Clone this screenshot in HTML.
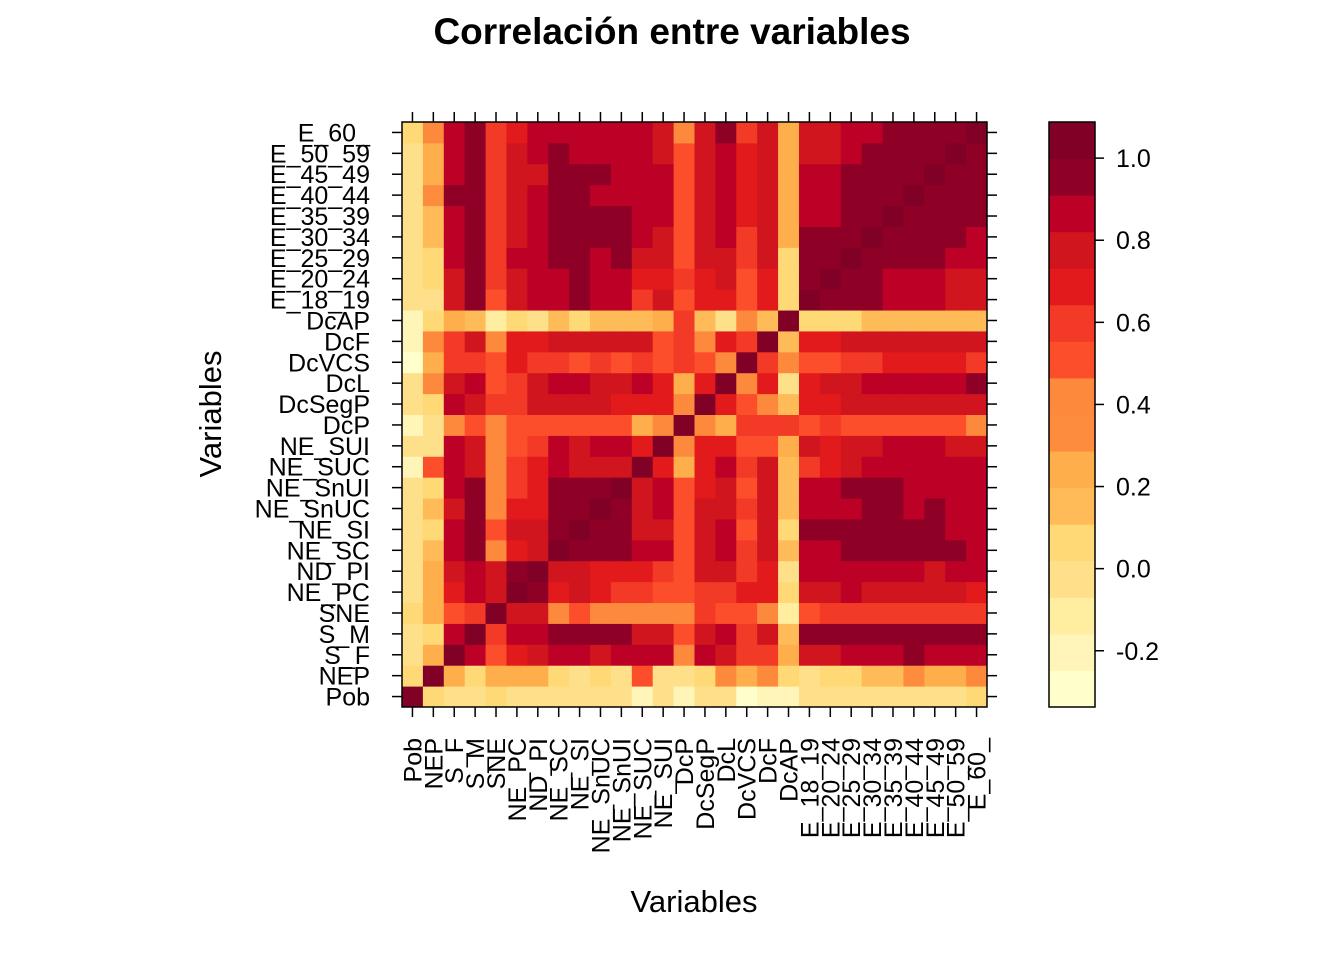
<!DOCTYPE html>
<html><head><meta charset="utf-8"><style>
html,body{margin:0;padding:0;background:#fff;}
svg{display:block;font-family:"Liberation Sans",Arial,sans-serif;}
</style></head><body>
<svg id="chart" width="1344" height="960" viewBox="0 0 1344 960">
<text x="672" y="44" text-anchor="middle" font-size="37" font-weight="bold">Correlación entre variables</text>
<text x="694" y="912" text-anchor="middle" font-size="31">Variables</text>
<text transform="translate(221,414) rotate(-90)" text-anchor="middle" font-size="31">Variables</text>
<g id="cells"></g>
<g id="axes"></g>
<g id="cbar"></g>
</svg>
<script>
const vars = ["Pob","NEP","S_F","S_M","SNE","NE_PC","ND_PI","NE_SC","NE_SI","NE_SnUC","NE_SnUI","NE_SUC","NE_SUI","DcP","DcSegP","DcL","DcVCS","DcF","DcAP","E_18_19","E_20_24","E_25_29","E_30_34","E_35_39","E_40_44","E_45_49","E_50_59","E_60_"];
const corr = [
[1,0.07,-0.02,-0.02,0.07,-0.02,-0.02,-0.02,-0.02,-0.02,-0.02,-0.2,-0.02,-0.2,-0.02,-0.02,-0.29,-0.2,-0.2,-0.02,-0.02,-0.02,-0.02,-0.02,-0.02,-0.02,-0.02,0.07],
[0.07,1,0.25,0.07,0.25,0.25,0.25,0.07,-0.02,0.07,-0.02,0.51,-0.02,-0.02,0.07,0.42,0.25,0.42,0.07,-0.02,0.07,0.07,0.16,0.16,0.34,0.25,0.25,0.42],
[-0.02,0.25,1,0.87,0.51,0.69,0.78,0.87,0.87,0.78,0.87,0.87,0.87,0.42,0.87,0.78,0.6,0.6,0.25,0.78,0.78,0.87,0.87,0.87,0.95,0.87,0.87,0.87],
[-0.02,0.07,0.87,1,0.6,0.87,0.87,0.95,0.95,0.95,0.95,0.78,0.78,0.51,0.78,0.87,0.6,0.78,0.16,0.95,0.95,0.95,0.95,0.95,0.95,0.95,0.95,0.95],
[0.07,0.25,0.51,0.6,1,0.78,0.78,0.42,0.51,0.42,0.42,0.42,0.42,0.42,0.6,0.51,0.51,0.42,-0.11,0.51,0.6,0.6,0.6,0.6,0.6,0.6,0.6,0.6],
[-0.02,0.25,0.69,0.87,0.78,1,0.95,0.69,0.78,0.69,0.6,0.6,0.51,0.51,0.6,0.6,0.69,0.69,0.07,0.78,0.78,0.87,0.78,0.78,0.78,0.78,0.78,0.69],
[-0.02,0.25,0.78,0.87,0.78,0.95,1,0.78,0.78,0.69,0.69,0.69,0.6,0.51,0.78,0.78,0.6,0.69,-0.02,0.87,0.87,0.87,0.87,0.87,0.87,0.78,0.87,0.87],
[-0.02,0.16,0.87,0.95,0.42,0.69,0.78,1,0.95,0.95,0.95,0.87,0.87,0.51,0.78,0.87,0.6,0.78,0.16,0.87,0.87,0.95,0.95,0.95,0.95,0.95,0.95,0.87],
[-0.02,0.07,0.87,0.95,0.51,0.78,0.78,0.95,1,0.95,0.95,0.78,0.78,0.51,0.78,0.87,0.51,0.78,0.07,0.95,0.95,0.95,0.95,0.95,0.95,0.95,0.87,0.87],
[-0.02,0.16,0.78,0.95,0.42,0.69,0.69,0.95,0.95,1,0.95,0.78,0.87,0.51,0.78,0.78,0.6,0.78,0.16,0.87,0.87,0.87,0.95,0.95,0.87,0.95,0.87,0.87],
[-0.02,0.07,0.87,0.95,0.42,0.6,0.69,0.95,0.95,0.95,1,0.78,0.87,0.51,0.69,0.78,0.51,0.78,0.16,0.87,0.87,0.95,0.95,0.95,0.87,0.87,0.87,0.87],
[-0.2,0.51,0.87,0.78,0.42,0.6,0.69,0.87,0.78,0.78,0.78,1,0.69,0.25,0.69,0.87,0.6,0.78,0.16,0.6,0.69,0.78,0.87,0.87,0.87,0.87,0.87,0.87],
[-0.02,-0.02,0.87,0.78,0.42,0.51,0.6,0.87,0.78,0.87,0.87,0.69,1,0.42,0.69,0.69,0.51,0.51,0.25,0.78,0.69,0.78,0.78,0.87,0.87,0.87,0.78,0.78],
[-0.2,-0.02,0.42,0.51,0.42,0.51,0.51,0.51,0.51,0.51,0.51,0.25,0.42,1,0.42,0.25,0.6,0.6,0.6,0.51,0.6,0.51,0.51,0.51,0.51,0.51,0.51,0.42],
[-0.02,0.07,0.87,0.78,0.6,0.6,0.78,0.78,0.78,0.78,0.69,0.69,0.69,0.42,1,0.69,0.51,0.42,0.16,0.69,0.69,0.78,0.78,0.78,0.78,0.78,0.78,0.78],
[-0.02,0.42,0.78,0.87,0.51,0.6,0.78,0.87,0.87,0.78,0.78,0.87,0.69,0.25,0.69,1,0.42,0.69,-0.02,0.69,0.78,0.78,0.87,0.87,0.87,0.87,0.87,0.95],
[-0.29,0.25,0.6,0.6,0.51,0.69,0.6,0.6,0.51,0.6,0.51,0.6,0.51,0.6,0.51,0.42,1,0.6,0.42,0.51,0.51,0.6,0.6,0.69,0.69,0.69,0.69,0.6],
[-0.2,0.42,0.6,0.78,0.42,0.69,0.69,0.78,0.78,0.78,0.78,0.78,0.51,0.6,0.42,0.69,0.6,1,0.16,0.69,0.69,0.78,0.78,0.78,0.78,0.78,0.78,0.78],
[-0.2,0.07,0.25,0.16,-0.11,0.07,-0.02,0.16,0.07,0.16,0.16,0.16,0.25,0.6,0.16,-0.02,0.42,0.16,1,0.07,0.07,0.07,0.16,0.16,0.16,0.16,0.16,0.16],
[-0.02,-0.02,0.78,0.95,0.51,0.78,0.87,0.87,0.95,0.87,0.87,0.6,0.78,0.51,0.69,0.69,0.51,0.69,0.07,1,0.95,0.95,0.95,0.87,0.87,0.87,0.78,0.78],
[-0.02,0.07,0.78,0.95,0.6,0.78,0.87,0.87,0.95,0.87,0.87,0.69,0.69,0.6,0.69,0.78,0.51,0.69,0.07,0.95,1,0.95,0.95,0.87,0.87,0.87,0.78,0.78],
[-0.02,0.07,0.87,0.95,0.6,0.87,0.87,0.95,0.95,0.87,0.95,0.78,0.78,0.51,0.78,0.78,0.6,0.78,0.07,0.95,0.95,1,0.95,0.95,0.95,0.95,0.87,0.87],
[-0.02,0.16,0.87,0.95,0.6,0.78,0.87,0.95,0.95,0.95,0.95,0.87,0.78,0.51,0.78,0.87,0.6,0.78,0.25,0.95,0.95,0.95,1,0.95,0.95,0.95,0.95,0.87],
[-0.02,0.16,0.87,0.95,0.6,0.78,0.87,0.95,0.95,0.95,0.95,0.87,0.87,0.51,0.78,0.87,0.69,0.78,0.25,0.87,0.87,0.95,0.95,1,0.95,0.95,0.95,0.95],
[-0.02,0.34,0.95,0.95,0.6,0.78,0.87,0.95,0.95,0.87,0.87,0.87,0.87,0.51,0.78,0.87,0.69,0.78,0.25,0.87,0.87,0.95,0.95,0.95,1,0.95,0.95,0.95],
[-0.02,0.25,0.87,0.95,0.6,0.78,0.78,0.95,0.95,0.95,0.87,0.87,0.87,0.51,0.78,0.87,0.69,0.78,0.25,0.87,0.87,0.95,0.95,0.95,0.95,1,0.95,0.95],
[-0.02,0.25,0.87,0.95,0.6,0.78,0.87,0.95,0.87,0.87,0.87,0.87,0.78,0.51,0.78,0.87,0.69,0.78,0.25,0.78,0.78,0.87,0.95,0.95,0.95,0.95,1,0.95],
[0.07,0.42,0.87,0.95,0.6,0.69,0.87,0.87,0.87,0.87,0.87,0.87,0.78,0.42,0.78,0.95,0.6,0.78,0.25,0.78,0.78,0.87,0.87,0.95,0.95,0.95,0.95,1]
];
const palette = ["#FFFFCC","#FFF5B8","#FFEDA0","#FEE08B","#FED976","#FEBB58","#FEAE4A","#FD8D3C","#FD8A3C","#FC4E2A","#F23A27","#E31A1C","#D0151F","#BD0026","#8F0027","#800026"];
const keyTicks = [-0.2,0.0,0.2,0.4,0.6,0.8,1.0];
const keyTickLabels = ["-0.2","0.0","0.2","0.4","0.6","0.8","1.0"];
const vMin = -0.337, vMax = 1.088;

const NS = "http://www.w3.org/2000/svg";
const X0 = 402, Y0 = 122, W = 585, H = 585;
const n = vars.length, cw = W / n, ch = H / n;
const xPos = i => X0 + i * cw;
const yPos = i => Y0 + H - (i + 1) * ch;
const colorOf = v => {
  let b = Math.floor((v - vMin) / (vMax - vMin) * palette.length);
  b = Math.max(0, Math.min(palette.length - 1, b));
  return palette[b];
};
function mk(tag, attrs, parent) {
  const el = document.createElementNS(NS, tag);
  for (const k in attrs) el.setAttribute(k, attrs[k]);
  parent.appendChild(el);
  return el;
}
const gc = document.getElementById("cells");
for (let r = 0; r < n; r++) {
  for (let c = 0; c < n; c++) {
    const rect = mk("rect", {x: xPos(c), y: yPos(r), width: cw + 0.5, height: ch + 0.5, fill: colorOf(corr[r][c])}, gc);
    
    
  }
}
const ga = document.getElementById("axes");
const frame = mk("rect", {x: X0, y: Y0, width: W, height: H, fill: "none", stroke: "#000", "stroke-width": 1.5}, ga);


for (let i = 0; i < n; i++) {
  const cx = xPos(i) + cw / 2, cy = yPos(i) + ch / 2;
  mk("line", {x1: cx, x2: cx, y1: Y0 + H, y2: Y0 + H + 10, stroke: "#000", "stroke-width": 1.5}, ga);
  mk("line", {x1: cx, x2: cx, y1: Y0, y2: Y0 - 10, stroke: "#000", "stroke-width": 1.5}, ga);
  mk("line", {x1: X0, x2: X0 - 10, y1: cy, y2: cy, stroke: "#000", "stroke-width": 1.5}, ga);
  mk("line", {x1: X0 + W, x2: X0 + W + 10, y1: cy, y2: cy, stroke: "#000", "stroke-width": 1.5}, ga);
  const yl = mk("text", {x: 370, y: cy + 9, "text-anchor": "end", "font-size": 25}, ga);
  yl.textContent = vars[i];
  
  
  const xl = mk("text", {transform: "translate(" + (cx + 9) + ",738) rotate(-90)", "text-anchor": "end", "font-size": 25}, ga);
  xl.textContent = vars[i];
  
  
}
const gk = document.getElementById("cbar");
const KX = 1049, KW = 46, KY0 = 122, KH = 585;
const kY = v => KY0 + KH - (v - vMin) / (vMax - vMin) * KH;
const bh = KH / palette.length;
for (let b = 0; b < palette.length; b++) {
  const kr = mk("rect", {x: KX, y: KY0 + KH - (b + 1) * bh, width: KW, height: bh + 0.5, fill: palette[b]}, gk);
  
  
}
mk("rect", {x: KX, y: KY0, width: KW, height: KH, fill: "none", stroke: "#000", "stroke-width": 1.5}, gk);
for (let t = 0; t < keyTicks.length; t++) {
  const y = kY(keyTicks[t]);
  mk("line", {x1: KX + KW, x2: KX + KW + 9, y1: y, y2: y, stroke: "#000", "stroke-width": 1.5}, gk);
  const tl = mk("text", {x: KX + KW + 21, y: y + 9, "font-size": 25}, gk);
  tl.textContent = keyTickLabels[t];
  
  
}
</script>
</body></html>
